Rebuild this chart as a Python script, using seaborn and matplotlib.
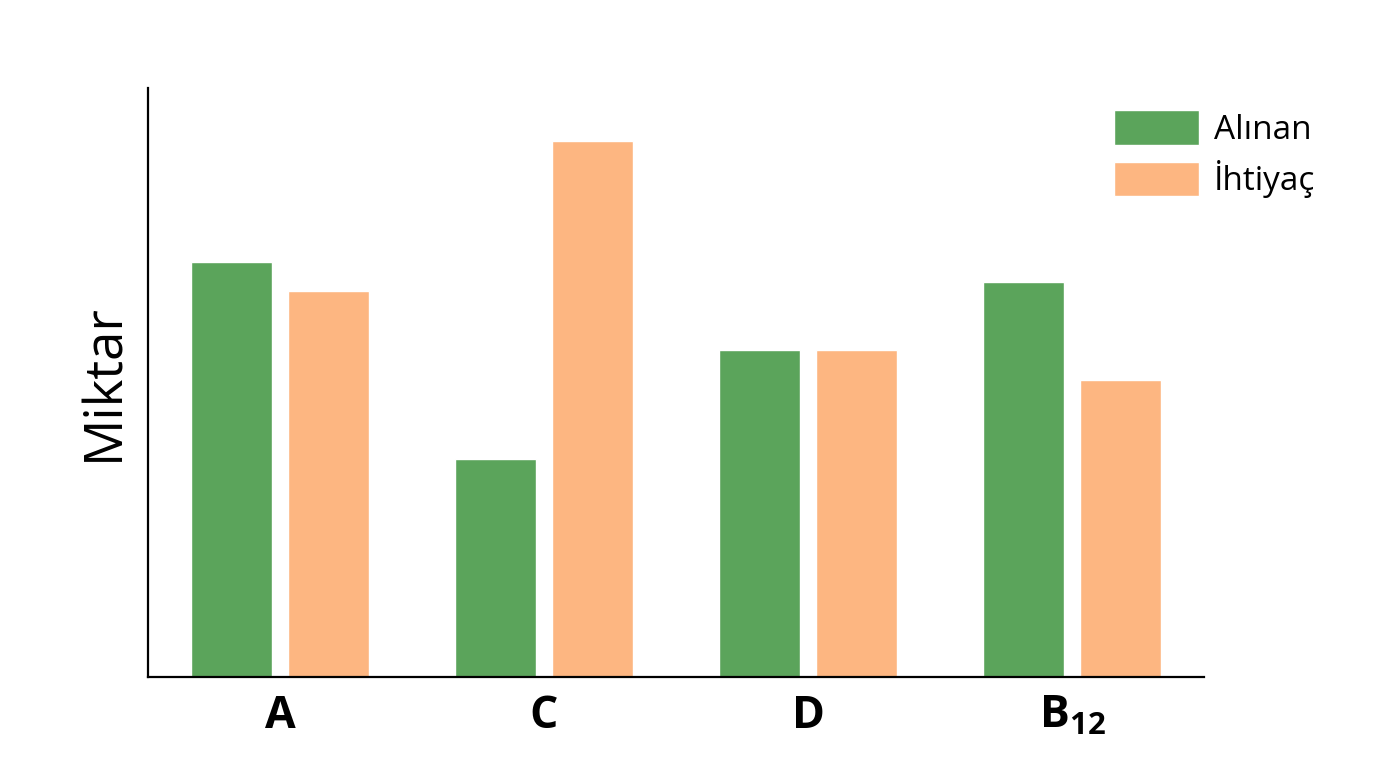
import pandas as pd
import seaborn as sns
import matplotlib.pyplot as plt

# values (no scale shown, 0-100 relative)
nutrients = ['A', 'C', 'D', 'B12']
tick_labels = ['A', 'C', 'D', r'$\mathbf{B_{12}}$']
alinan = [70.5, 37, 55.5, 67]
ihtiyac = [65.5, 91, 55.5, 50.5]

df = pd.DataFrame({
    'Besin': nutrients * 2,
    'Miktar': alinan + ihtiyac,
    'Tür': ['Alınan'] * 4 + ['İhtiyaç'] * 4,
})

sns.set_style('white')
plt.rcParams['font.family'] = ['Open Sans', 'DejaVu Sans']
plt.rcParams['text.color'] = 'black'
plt.rcParams['axes.labelcolor'] = 'black'
plt.rcParams['xtick.color'] = 'black'
plt.rcParams['mathtext.fontset'] = 'custom'
plt.rcParams['mathtext.rm'] = 'Open Sans'
plt.rcParams['mathtext.bf'] = 'Open Sans:bold'

fig = plt.figure(figsize=(13.76, 7.68), dpi=100)
ax = fig.add_axes([0.1076, 0.1185, 0.7674, 0.7669])

sns.barplot(data=df, x='Besin', y='Miktar', hue='Tür',
            palette=['#5ba45b', '#fdb681'], width=0.735, gap=0.165,
            saturation=1, ax=ax)

ax.set_ylim(0, 100)
ax.set_xlim(-0.5, 3.5)
ax.set_yticks([])
ax.set_xticks(range(4))
ax.set_xticklabels(tick_labels, fontsize=32, fontweight='bold')
ax.tick_params(axis='x', length=0, pad=12)
ax.set_xlabel('')
ax.set_ylabel('Miktar', fontsize=38, labelpad=12)
sns.despine(ax=ax)
for s in ['left', 'bottom']:
    ax.spines[s].set_color('black')
    ax.spines[s].set_linewidth(1.6)

ax.legend(loc='upper left', bbox_to_anchor=(0.915, 0.962), frameon=False,
          fontsize=24, handlelength=2.55, handleheight=1.2, borderpad=0,
          borderaxespad=0, handletextpad=0.45, labelspacing=0.4)

fig.savefig('out.png', dpi=100)
